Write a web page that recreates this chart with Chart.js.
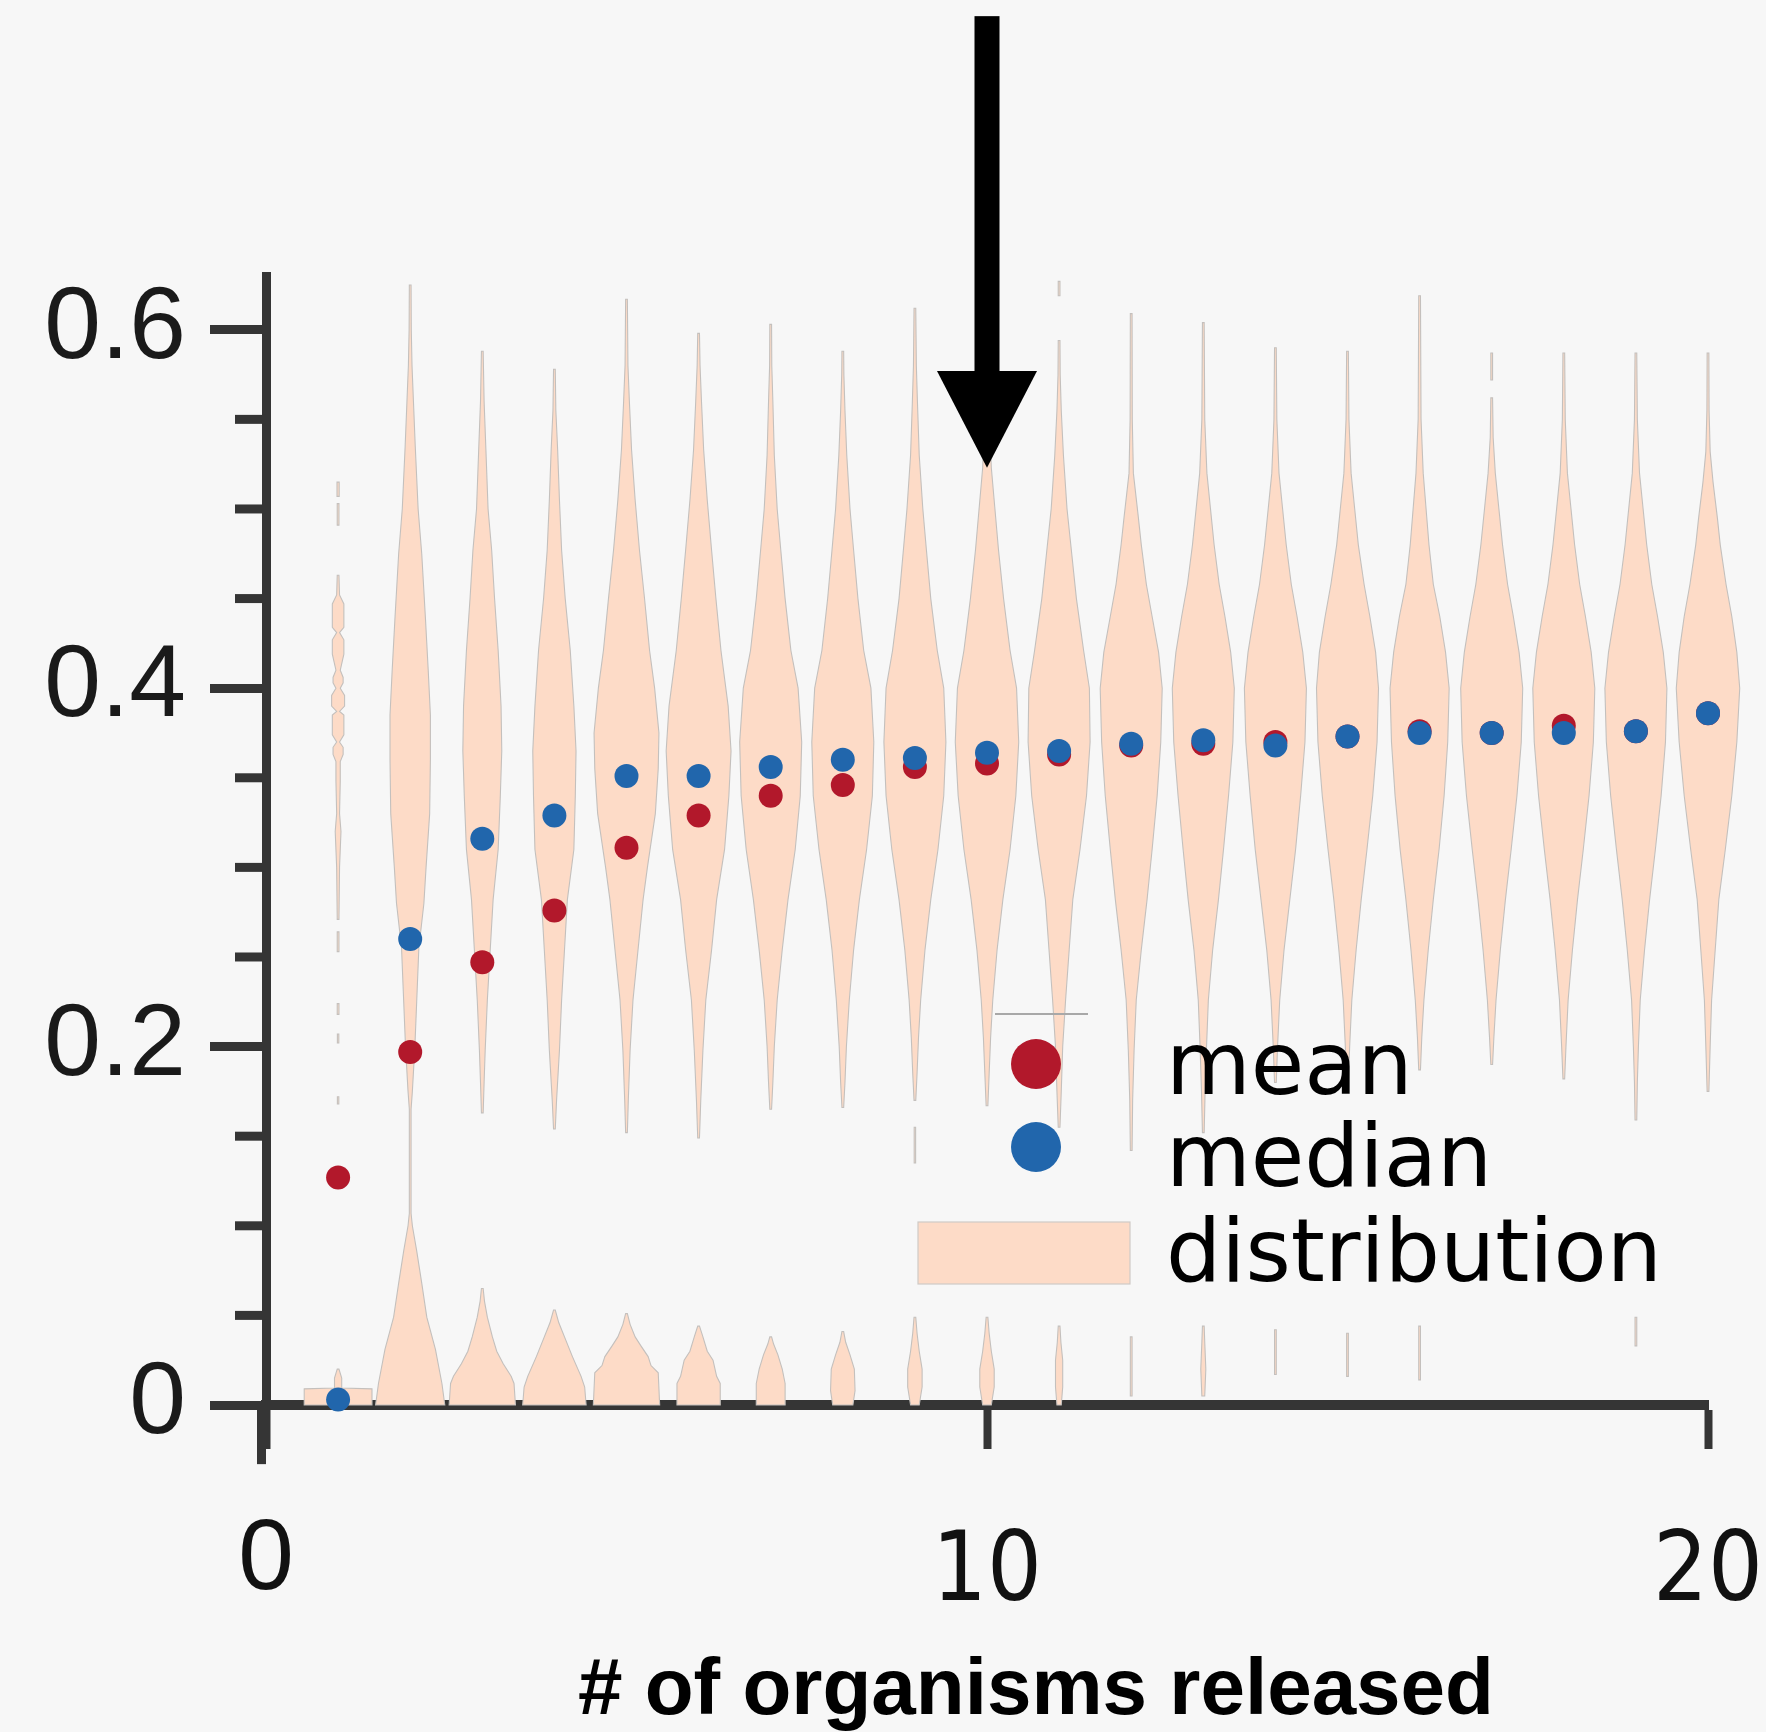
<!DOCTYPE html>
<html>
<head>
<meta charset="utf-8">
<script src="https://cdn.jsdelivr.net/npm/chart.js@4.4.1/dist/chart.umd.min.js"></script>
<style>
  html, body { margin: 0; padding: 0; background: #f7f7f7; }
  #wrap { width: 1766px; height: 1732px; }
  canvas { display: block; }
</style>
</head>
<body>
<div id="wrap"><canvas id="chart" width="1766" height="1732"></canvas></div>
<script>
// ---------------- data ----------------
const categories = [1, 2, 3, 4, 5, 6, 7, 8, 9, 10, 11, 12, 13, 14, 15, 16, 17, 18, 19, 20];
const meanValues = [0.127, 0.197, 0.247, 0.276, 0.311, 0.329, 0.340, 0.346, 0.356, 0.358,
                    0.363, 0.368, 0.369, 0.370, 0.373, 0.376, 0.375, 0.379, 0.376, 0.386];
const medianValues = [0.003, 0.260, 0.316, 0.329, 0.351, 0.351, 0.356, 0.360, 0.361, 0.364,
                      0.365, 0.369, 0.371, 0.368, 0.373, 0.375, 0.375, 0.375, 0.376, 0.386];
const xTickValues = [0, 10, 20];
const yMajorTicks = [0, 0.2, 0.4, 0.6];
const yMinorTicks = [0.05, 0.1, 0.15, 0.25, 0.3, 0.35, 0.45, 0.5, 0.55];
const yAxisLowEnd = -0.033;
const seriesLabels = ['mean', 'median', 'distribution'];
const xTitle = '# of organisms released';

// arrow annotation (data units)
const arrowX = 10;
const arrowTop = 0.775;
const arrowHeadBase = 0.577;
const arrowTip = 0.523;

// violin outlines: per category, list of parts; each part is [value, half-width in x units]
const violinParts = [
  [ // 1
    [[0,0.47],[0.009,0.47],[0.0095,0.05],[0.015,0.05],[0.02,0.012]],
    [[0.168,0.01],[0.172,0.01]],
    [[0.202,0.01],[0.207,0.01]],
    [[0.218,0.012],[0.224,0.012]],
    [[0.253,0.012],[0.264,0.012]],
    [[0.271,0.012],[0.30,0.02],[0.32,0.04],[0.33,0.02],[0.348,0.03],[0.359,0.03],[0.363,0.07],[0.367,0.07],[0.37,0.02],[0.374,0.08],[0.385,0.08],[0.387,0.02],[0.39,0.09],[0.396,0.09],[0.40,0.03],[0.403,0.07],[0.406,0.07],[0.41,0.03],[0.419,0.08],[0.427,0.08],[0.431,0.02],[0.434,0.08],[0.447,0.08],[0.452,0.02],[0.463,0.012]],
    [[0.491,0.012],[0.503,0.012]],
    [[0.507,0.015],[0.515,0.015]]
  ],
  [ // 2
    [[0,0.48],[0.012,0.44],[0.031,0.35],[0.049,0.23],[0.068,0.16],[0.086,0.09],[0.10,0.03],[0.107,0.012],[0.165,0.012],[0.175,0.03],[0.20,0.065],[0.225,0.09],[0.255,0.12],[0.28,0.19],[0.30,0.22],[0.33,0.27],[0.36,0.28],[0.385,0.28],[0.41,0.25],[0.44,0.21],[0.475,0.16],[0.50,0.11],[0.535,0.07],[0.56,0.045],[0.58,0.025],[0.60,0.015],[0.625,0.012]]
  ],
  [ // 3
    [[0,0.46],[0.012,0.44],[0.016,0.40],[0.023,0.29],[0.03,0.2],[0.038,0.14],[0.049,0.07],[0.058,0.03],[0.065,0.012]],
    [[0.163,0.012],[0.18,0.025],[0.198,0.04],[0.226,0.07],[0.254,0.11],[0.282,0.15],[0.31,0.22],[0.34,0.25],[0.365,0.27],[0.39,0.26],[0.421,0.22],[0.45,0.17],[0.477,0.13],[0.50,0.08],[0.533,0.05],[0.56,0.025],[0.588,0.012]]
  ],
  [ // 4
    [[0,0.44],[0.01,0.42],[0.016,0.37],[0.027,0.25],[0.038,0.14],[0.046,0.06],[0.053,0.012]],
    [[0.154,0.012],[0.17,0.03],[0.198,0.07],[0.226,0.1],[0.254,0.14],[0.282,0.18],[0.31,0.27],[0.34,0.29],[0.365,0.30],[0.39,0.27],[0.421,0.22],[0.45,0.15],[0.477,0.10],[0.505,0.07],[0.533,0.045],[0.555,0.02],[0.578,0.012]]
  ],
  [ // 5
    [[0,0.46],[0.018,0.44],[0.022,0.34],[0.027,0.30],[0.033,0.2],[0.038,0.12],[0.045,0.05],[0.051,0.012]],
    [[0.152,0.012],[0.17,0.025],[0.198,0.05],[0.226,0.09],[0.254,0.16],[0.282,0.23],[0.30,0.29],[0.33,0.40],[0.355,0.44],[0.375,0.45],[0.40,0.39],[0.421,0.32],[0.45,0.25],[0.477,0.18],[0.505,0.12],[0.533,0.07],[0.56,0.04],[0.58,0.02],[0.617,0.012]]
  ],
  [ // 6
    [[0,0.3],[0.012,0.3],[0.016,0.25],[0.025,0.2],[0.03,0.12],[0.038,0.06],[0.044,0.012]],
    [[0.149,0.012],[0.17,0.03],[0.198,0.06],[0.226,0.10],[0.254,0.18],[0.282,0.25],[0.31,0.36],[0.34,0.42],[0.365,0.45],[0.39,0.41],[0.421,0.31],[0.45,0.24],[0.477,0.18],[0.505,0.12],[0.533,0.07],[0.56,0.04],[0.58,0.02],[0.598,0.012]]
  ],
  [ // 7
    [[0,0.2],[0.012,0.2],[0.02,0.16],[0.028,0.1],[0.034,0.04],[0.038,0.012]],
    [[0.165,0.012],[0.18,0.03],[0.20,0.05],[0.226,0.09],[0.254,0.16],[0.282,0.24],[0.31,0.34],[0.34,0.41],[0.37,0.43],[0.40,0.38],[0.421,0.28],[0.45,0.2],[0.477,0.14],[0.50,0.09],[0.53,0.05],[0.56,0.03],[0.58,0.015],[0.603,0.012]]
  ],
  [ // 8
    [[0,0.14],[0.008,0.17],[0.02,0.16],[0.028,0.1],[0.035,0.04],[0.041,0.012]],
    [[0.166,0.012],[0.18,0.03],[0.20,0.05],[0.226,0.09],[0.254,0.15],[0.282,0.23],[0.31,0.33],[0.34,0.41],[0.37,0.43],[0.40,0.39],[0.421,0.29],[0.45,0.21],[0.477,0.15],[0.50,0.1],[0.53,0.055],[0.555,0.03],[0.575,0.015],[0.588,0.012]]
  ],
  [ // 9
    [[0,0.06],[0.01,0.1],[0.02,0.1],[0.03,0.06],[0.04,0.03],[0.049,0.012]],
    [[0.135,0.01],[0.155,0.01]],
    [[0.17,0.012],[0.185,0.03],[0.205,0.05],[0.226,0.08],[0.254,0.14],[0.282,0.22],[0.31,0.32],[0.34,0.40],[0.37,0.43],[0.40,0.40],[0.421,0.31],[0.45,0.22],[0.477,0.16],[0.50,0.11],[0.53,0.06],[0.56,0.035],[0.58,0.02],[0.612,0.012]]
  ],
  [ // 10
    [[0,0.06],[0.01,0.1],[0.02,0.1],[0.03,0.06],[0.04,0.03],[0.049,0.012]],
    [[0.167,0.012],[0.185,0.03],[0.205,0.05],[0.226,0.08],[0.254,0.14],[0.282,0.22],[0.31,0.32],[0.34,0.40],[0.37,0.44],[0.40,0.41],[0.421,0.32],[0.45,0.23],[0.477,0.16],[0.50,0.11],[0.523,0.06],[0.55,0.035],[0.575,0.02],[0.60,0.012]]
  ],
  [ // 11
    [[0,0.03],[0.01,0.05],[0.025,0.05],[0.035,0.025],[0.044,0.012]],
    [[0.155,0.012],[0.175,0.03],[0.20,0.05],[0.226,0.09],[0.254,0.14],[0.282,0.19],[0.31,0.29],[0.34,0.38],[0.37,0.43],[0.40,0.42],[0.421,0.34],[0.45,0.24],[0.477,0.17],[0.50,0.11],[0.53,0.06],[0.555,0.03],[0.575,0.015],[0.594,0.012]],
    [[0.619,0.012],[0.627,0.012]]
  ],
  [ // 12
    [[0.005,0.012],[0.038,0.012]],
    [[0.142,0.012],[0.17,0.02],[0.198,0.04],[0.226,0.07],[0.254,0.14],[0.282,0.22],[0.31,0.29],[0.34,0.36],[0.37,0.41],[0.40,0.43],[0.42,0.38],[0.44,0.29],[0.458,0.21],[0.48,0.14],[0.495,0.10],[0.52,0.03],[0.55,0.015],[0.609,0.012]]
  ],
  [ // 13
    [[0.005,0.02],[0.02,0.035],[0.035,0.02],[0.044,0.012]],
    [[0.152,0.012],[0.175,0.025],[0.20,0.045],[0.226,0.07],[0.254,0.13],[0.282,0.21],[0.31,0.28],[0.34,0.35],[0.37,0.41],[0.40,0.43],[0.42,0.38],[0.44,0.3],[0.458,0.22],[0.48,0.15],[0.50,0.1],[0.52,0.05],[0.55,0.02],[0.604,0.012]]
  ],
  [ // 14
    [[0.017,0.012],[0.042,0.012]],
    [[0.18,0.012],[0.20,0.03],[0.226,0.06],[0.254,0.12],[0.282,0.2],[0.31,0.28],[0.34,0.35],[0.37,0.41],[0.40,0.43],[0.42,0.38],[0.44,0.3],[0.458,0.22],[0.48,0.15],[0.50,0.1],[0.52,0.05],[0.55,0.02],[0.59,0.012]]
  ],
  [ // 15
    [[0.016,0.012],[0.04,0.012]],
    [[0.18,0.012],[0.20,0.03],[0.226,0.06],[0.254,0.12],[0.282,0.19],[0.31,0.27],[0.34,0.35],[0.37,0.41],[0.40,0.43],[0.42,0.39],[0.44,0.31],[0.458,0.23],[0.48,0.15],[0.50,0.1],[0.52,0.05],[0.55,0.02],[0.588,0.012]]
  ],
  [ // 16
    [[0.014,0.012],[0.044,0.012]],
    [[0.187,0.012],[0.205,0.03],[0.226,0.06],[0.254,0.12],[0.282,0.19],[0.31,0.27],[0.34,0.34],[0.37,0.39],[0.40,0.41],[0.42,0.36],[0.44,0.28],[0.458,0.19],[0.48,0.13],[0.495,0.1],[0.52,0.05],[0.55,0.02],[0.619,0.012]]
  ],
  [ // 17
    [[0.19,0.012],[0.205,0.03],[0.226,0.06],[0.254,0.12],[0.282,0.19],[0.31,0.27],[0.34,0.35],[0.37,0.41],[0.40,0.43],[0.42,0.38],[0.44,0.3],[0.458,0.22],[0.48,0.15],[0.50,0.1],[0.52,0.05],[0.54,0.02],[0.562,0.012]],
    [[0.572,0.012],[0.587,0.012]]
  ],
  [ // 18
    [[0.182,0.012],[0.20,0.03],[0.226,0.06],[0.254,0.12],[0.282,0.19],[0.31,0.27],[0.34,0.35],[0.37,0.41],[0.40,0.43],[0.42,0.38],[0.44,0.3],[0.458,0.22],[0.48,0.15],[0.50,0.1],[0.52,0.05],[0.55,0.02],[0.587,0.012]]
  ],
  [ // 19
    [[0.033,0.012],[0.049,0.012]],
    [[0.159,0.012],[0.18,0.02],[0.20,0.035],[0.226,0.06],[0.254,0.12],[0.282,0.19],[0.31,0.27],[0.34,0.35],[0.37,0.41],[0.40,0.43],[0.42,0.38],[0.44,0.3],[0.458,0.22],[0.48,0.15],[0.50,0.1],[0.52,0.05],[0.55,0.02],[0.587,0.012]]
  ],
  [ // 20
    [[0.175,0.012],[0.20,0.03],[0.226,0.05],[0.254,0.10],[0.282,0.15],[0.31,0.24],[0.34,0.33],[0.37,0.40],[0.40,0.44],[0.42,0.40],[0.44,0.33],[0.458,0.25],[0.48,0.17],[0.495,0.13],[0.515,0.07],[0.532,0.03],[0.555,0.015],[0.587,0.012]]
  ]
];

// ---------------- styles ----------------
const RED = '#b2182b';
const BLUE = '#2166ac';
const PEACH = '#fddbc7';
const AXIS = '#353535';

// ---------------- plugins ----------------
const backgroundPlugin = {
  id: 'bg',
  beforeDraw(chart) {
    const ctx = chart.ctx;
    ctx.save();
    ctx.fillStyle = '#f7f7f7';
    ctx.fillRect(0, 0, chart.width, chart.height);
    ctx.restore();
  }
};

const violinPlugin = {
  id: 'violins',
  beforeDatasetsDraw(chart) {
    const ctx = chart.ctx;
    const xs = chart.scales.x, ys = chart.scales.y;
    ctx.save();
    ctx.fillStyle = PEACH;
    ctx.strokeStyle = '#c4c0bd';
    ctx.lineWidth = 1.1;
    categories.forEach((cx, i) => {
      (violinParts[i] || []).forEach(part => {
        ctx.beginPath();
        part.forEach(([v, w], k) => {
          const px = xs.getPixelForValue(cx + w), py = ys.getPixelForValue(v);
          if (k === 0) ctx.moveTo(px, py); else ctx.lineTo(px, py);
        });
        for (let k = part.length - 1; k >= 0; k--) {
          const [v, w] = part[k];
          ctx.lineTo(xs.getPixelForValue(cx - w), ys.getPixelForValue(v));
        }
        ctx.closePath();
        ctx.fill();
        ctx.stroke();
      });
    });
    ctx.restore();
  }
};

const axisExtrasPlugin = {
  id: 'axisExtras',
  afterDraw(chart) {
    const ctx = chart.ctx;
    const ys = chart.scales.y;
    const left = chart.chartArea.left;
    ctx.save();
    ctx.strokeStyle = AXIS;
    ctx.lineWidth = 9;
    yMinorTicks.forEach(v => {
      const py = ys.getPixelForValue(v);
      ctx.beginPath();
      ctx.moveTo(left - 31, py);
      ctx.lineTo(left, py);
      ctx.stroke();
    });
    ctx.beginPath();
    ctx.moveTo(left - 4.5, ys.getPixelForValue(0));
    ctx.lineTo(left - 4.5, ys.getPixelForValue(yAxisLowEnd));
    ctx.stroke();
    ctx.restore();
  }
};

const arrowPlugin = {
  id: 'arrow',
  afterDraw(chart) {
    const ctx = chart.ctx;
    const xs = chart.scales.x, ys = chart.scales.y;
    const ax = xs.getPixelForValue(arrowX);
    const yTop = ys.getPixelForValue(arrowTop);
    const yBase = ys.getPixelForValue(arrowHeadBase);
    const yTip = ys.getPixelForValue(arrowTip);
    ctx.save();
    ctx.fillStyle = '#000';
    ctx.fillRect(ax - 12.5, yTop, 25, yBase - yTop + 1);
    ctx.beginPath();
    ctx.moveTo(ax - 50, yBase);
    ctx.lineTo(ax + 50, yBase);
    ctx.lineTo(ax, yTip);
    ctx.closePath();
    ctx.fill();
    ctx.restore();
  }
};

const legendPlugin = {
  id: 'customLegend',
  afterDraw(chart) {
    const ctx = chart.ctx;
    const ds = chart.data.datasets;
    ctx.save();
    ctx.strokeStyle = '#a8a8a8';
    ctx.lineWidth = 2;
    ctx.beginPath();
    ctx.moveTo(995, 1014); ctx.lineTo(1088, 1014);
    ctx.stroke();
    ctx.fillStyle = ds[0].backgroundColor;
    ctx.beginPath(); ctx.arc(1036, 1064, 25, 0, Math.PI * 2); ctx.fill();
    ctx.fillStyle = ds[1].backgroundColor;
    ctx.beginPath(); ctx.arc(1036, 1147, 25, 0, Math.PI * 2); ctx.fill();
    ctx.fillStyle = PEACH;
    ctx.strokeStyle = '#cfcac6';
    ctx.lineWidth = 1.2;
    ctx.fillRect(918, 1222, 212, 62);
    ctx.strokeRect(918, 1222, 212, 62);
    ctx.fillStyle = '#000';
    ctx.font = '87px "DejaVu Sans"';
    ctx.textAlign = 'left';
    ctx.textBaseline = 'alphabetic';
    ctx.fillText(seriesLabels[0], 1166, 1094);
    ctx.fillText(seriesLabels[1], 1166, 1186);
    ctx.fillText(seriesLabels[2], 1166, 1281);
    // x axis title
    ctx.font = 'bold 80px "Liberation Sans"';
    ctx.textAlign = 'center';
    ctx.fillText(xTitle, 1036, 1714);
    ctx.restore();
  }
};

// ---------------- chart ----------------
const ctx = document.getElementById('chart').getContext('2d');
new Chart(ctx, {
  type: 'scatter',
  data: {
    datasets: [
      {
        label: seriesLabels[0],
        data: categories.map((x, i) => ({ x, y: meanValues[i] })),
        backgroundColor: RED,
        borderColor: RED,
        borderWidth: 0,
        pointRadius: 12,
        pointHoverRadius: 12,
        clip: false,
        order: 2
      },
      {
        label: seriesLabels[1],
        data: categories.map((x, i) => ({ x, y: medianValues[i] })),
        backgroundColor: BLUE,
        borderColor: BLUE,
        borderWidth: 0,
        pointRadius: 12,
        pointHoverRadius: 12,
        clip: false,
        order: 1
      }
    ]
  },
  options: {
    responsive: false,
    animation: false,
    devicePixelRatio: 1,
    layout: { padding: { top: 276, right: 58, bottom: 0, left: 0 } },
    plugins: {
      legend: { display: false },
      tooltip: { enabled: false },
      title: { display: false }
    },
    scales: {
      x: {
        type: 'linear',
        position: 'bottom',
        min: 0,
        max: 20,
        z: 1,
        afterBuildTicks: s => { s.ticks = xTickValues.map(v => ({ value: v })); },
        afterFit: s => { s.height = 327; s.paddingLeft = 0; s.paddingRight = 0; },
        grid: { drawOnChartArea: false, drawTicks: true, tickLength: 44, tickWidth: 8, tickColor: AXIS },
        border: { display: true, color: AXIS, width: 10 },
        ticks: {
          autoSkip: false,
          maxRotation: 0,
          padding: 52,
          color: '#111',
          font: (c) => (c.tick && c.tick.value === 0)
            ? { family: 'Liberation Sans', size: 100, lineHeight: 1.2 }
            : { family: '"DejaVu Sans Condensed", "DejaVu Sans"', size: 96, lineHeight: 1.54 },
          callback: v => String(v)
        },
        title: { display: false }
      },
      y: {
        type: 'linear',
        position: 'left',
        min: 0,
        max: 0.63,
        z: 1,
        afterBuildTicks: s => { s.ticks = yMajorTicks.map(v => ({ value: v })); },
        afterFit: s => { s.width = 266; s.paddingTop = 0; s.paddingBottom = 0; },
        grid: { drawOnChartArea: false, drawTicks: true, tickLength: 56, tickWidth: 9, tickColor: AXIS },
        border: { display: true, color: AXIS, width: 9 },
        ticks: {
          padding: 24,
          color: '#1a1a1a',
          font: { family: 'Liberation Sans', size: 102 },
          callback: v => String(v)
        }
      }
    }
  },
  plugins: [backgroundPlugin, violinPlugin, axisExtrasPlugin, arrowPlugin, legendPlugin]
});
</script>
</body>
</html>
